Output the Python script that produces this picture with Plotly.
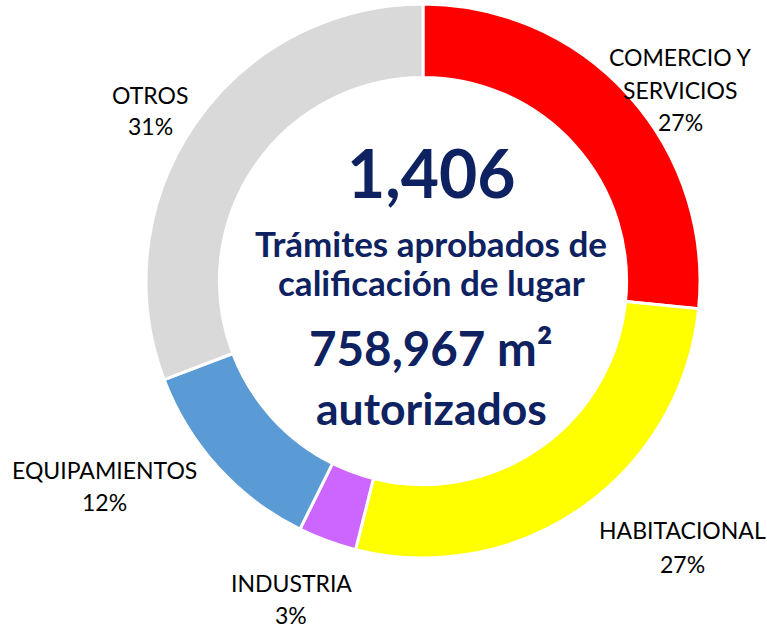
import plotly.graph_objects as go

# Data
categories = ["COMERCIO Y SERVICIOS", "HABITACIONAL", "INDUSTRIA", "EQUIPAMIENTOS", "OTROS"]
display_lines = [["COMERCIO Y", "SERVICIOS"], ["HABITACIONAL"], ["INDUSTRIA"], ["EQUIPAMIENTOS"], ["OTROS"]]
values = [374, 384, 48, 167, 433]
colors = ["#FF0000", "#FFFF00", "#CC66FF", "#5B9BD5", "#D9D9D9"]
total_tramites = "1,406"
center_lines = ["Trámites aprobados de", "calificación de lugar"]
area_text = "758,967 m²"
area_label = "autorizados"

W, H = 767, 629
cx, cy, r = 423, 281, 277
tx = 431  # center text x

fig = go.Figure(go.Pie(
    labels=categories,
    values=values,
    hole=0.735,
    sort=False,
    direction="clockwise",
    rotation=0,
    textinfo="none",
    hoverinfo="label+percent",
    marker=dict(colors=colors, line=dict(color="white", width=3)),
    domain=dict(x=[(cx - r) / W, (cx + r) / W], y=[(H - cy - r) / H, (H - cy + r) / H]),
    showlegend=False,
))

total = sum(values)
pcts = [round(v * 100 / total) for v in values]

# label anchor positions (pixel centers of first line), line spacing
label_pos = [(680, 57), (682, 530), (291, 583), (104, 470), (150, 95)]
line_gaps = [32.5, 34, 31.5, 32, 31]
ann = []
for lines, p, (x, y), g in zip(display_lines, pcts, label_pos, line_gaps):
    all_lines = lines + [f"{p}%"]
    for i, t in enumerate(all_lines):
        ann.append(dict(x=x / W, y=1 - (y + i * g) / H, xref="paper", yref="paper",
                        text=t, showarrow=False, xanchor="center", yanchor="middle",
                        font=dict(family="Lato", size=23, color="#000000")))

navy = "#0E2160"
ann.append(dict(x=tx / W, y=1 - 172 / H, xref="paper", yref="paper", text=f"<b>{total_tramites}</b>",
                showarrow=False, xanchor="center", yanchor="middle",
                font=dict(family="Lato", size=66, color=navy)))
for i, t in enumerate(center_lines):
    ann.append(dict(x=tx / W, y=1 - (243 + i * 39) / H, xref="paper", yref="paper", text=f"<b>{t}</b>",
                    showarrow=False, xanchor="center", yanchor="middle",
                    font=dict(family="Lato", size=35, color=navy)))
ann.append(dict(x=tx / W, y=1 - 347 / H, xref="paper", yref="paper", text=f"<b>{area_text}</b>",
                showarrow=False, xanchor="center", yanchor="middle",
                font=dict(family="Lato", size=47.5, color=navy)))
ann.append(dict(x=tx / W, y=1 - 407 / H, xref="paper", yref="paper", text=f"<b>{area_label}</b>",
                showarrow=False, xanchor="center", yanchor="middle",
                font=dict(family="Lato", size=44.5, color=navy)))

fig.update_layout(
    width=W, height=H,
    margin=dict(l=0, r=0, t=0, b=0),
    paper_bgcolor="white", plot_bgcolor="white",
    annotations=ann,
)

fig.write_html("out.html", config={"displayModeBar": False},
               post_script="document.body.style.margin='0px';")
